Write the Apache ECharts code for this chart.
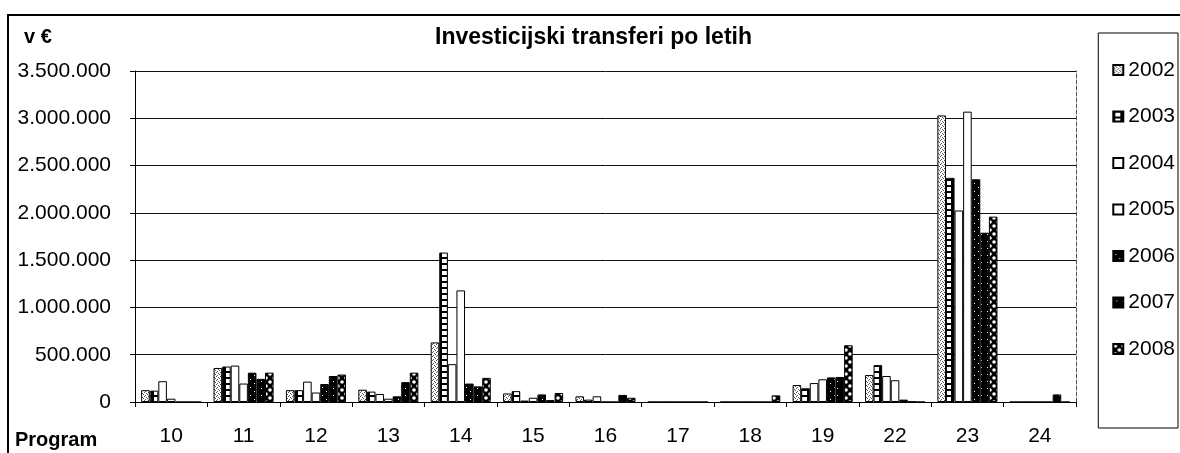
<!DOCTYPE html>
<html>
<head>
<meta charset="utf-8">
<script src="https://cdn.jsdelivr.net/npm/echarts@6/dist/echarts.min.js"></script>
<style>
  html, body { margin: 0; padding: 0; background: #fff; }
  #chart { width: 1180px; height: 453px; }
</style>
</head>
<body>
<div id="chart"></div>
<script>
// kategorije (programi) in leta
var programs = ['10', '11', '12', '13', '14', '15', '16', '17', '18', '19', '22', '23', '24'];
var years = ['2002', '2003', '2004', '2005', '2006', '2007', '2008'];

// vrednosti v € (odčitane s slike)
var v2002 = [125000, 360000, 125000, 130000, 630000, 90000, 60000, 0, 0, 180000, 285000, 3030000, 0];
var v2003 = [120000, 375000, 125000, 110000, 1580000, 115000, 25000, 0, 0, 145000, 390000, 2370000, 0];
var v2004 = [220000, 385000, 215000, 85000, 400000, 15000, 60000, 0, 0, 200000, 275000, 2025000, 0];
var v2005 = [35000, 195000, 100000, 35000, 1180000, 45000, 0, 0, 0, 240000, 230000, 3070000, 0];
var v2006 = [0, 310000, 190000, 60000, 195000, 80000, 0, 0, 0, 260000, 25000, 2355000, 0];
var v2007 = [0, 245000, 275000, 210000, 165000, 20000, 75000, 0, 0, 265000, 5000, 1790000, 80000];
var v2008 = [0, 310000, 290000, 310000, 255000, 95000, 45000, 0, 70000, 600000, 0, 1960000, 0];

var yTicks = ['0', '500.000', '1.000.000', '1.500.000', '2.000.000', '2.500.000', '3.000.000', '3.500.000'];

// vzorci (crno-bel tisk)
function pattern(w, h, draw) {
  var c = document.createElement('canvas');
  c.width = w; c.height = h;
  var ctx = c.getContext('2d');
  draw(ctx);
  return { image: c, repeat: 'repeat' };
}
var p2002 = pattern(4, 4, function (ctx) {
  ctx.fillStyle = '#fff'; ctx.fillRect(0, 0, 4, 4);
  ctx.fillStyle = '#555';
  ctx.fillRect(0, 0, 1, 1); ctx.fillRect(2, 1, 1, 1);
  ctx.fillRect(1, 3, 1, 1); ctx.fillRect(3, 2, 1, 1);
});
var p2003 = pattern(8, 6, function (ctx) {
  ctx.fillStyle = '#000'; ctx.fillRect(0, 0, 8, 6);
  ctx.fillStyle = '#fff'; ctx.fillRect(2, 1, 5, 4);
});
var pWhite = '#fff';
var p2006 = pattern(8, 8, function (ctx) {
  ctx.fillStyle = '#000'; ctx.fillRect(0, 0, 8, 8);
  ctx.fillStyle = '#fff'; ctx.fillRect(2, 3, 1, 1); ctx.fillRect(6, 7, 1, 1);
});
var p2007 = pattern(6, 7, function (ctx) {
  ctx.fillStyle = '#000'; ctx.fillRect(0, 0, 6, 7);
  ctx.fillStyle = '#fff'; ctx.fillRect(3, 3, 1, 1);
});
var p2008 = pattern(8, 8, function (ctx) {
  ctx.fillStyle = '#000'; ctx.fillRect(0, 0, 8, 8);
  ctx.fillStyle = '#fff';
  ctx.beginPath(); ctx.arc(2, 2, 1.8, 0, Math.PI * 2); ctx.fill();
  ctx.beginPath(); ctx.arc(6, 6, 1.8, 0, Math.PI * 2); ctx.fill();
});

var values = [v2002, v2003, v2004, v2005, v2006, v2007, v2008];
var fills = [p2002, p2003, pWhite, pWhite, p2006, p2007, p2008];
var font = 'Liberation Sans, Arial, sans-serif';

var series = [];
for (var i = 0; i < years.length; i++) {
  series.push({
    name: years[i],
    type: 'bar',
    data: values[i],
    barGap: 0,
    barCategoryGap: '17%',
    itemStyle: { color: fills[i], borderColor: '#000', borderWidth: 1 },
    emphasis: { disabled: true }
  });
}

var myChart = echarts.init(document.getElementById('chart'));
var option = {
  backgroundColor: '#fff',
  animation: false,
  title: [{
    text: 'Investicijski transferi po letih',
    left: 430, top: 21,
    textStyle: { fontFamily: font, fontSize: 23, fontWeight: 'bold', color: '#000' }
  }, {
    text: 'v €',
    left: 19, top: 22,
    textStyle: { fontFamily: font, fontSize: 20, fontWeight: 'bold', color: '#000' }
  }, {
    text: 'Program',
    left: 10, top: 425,
    textStyle: { fontFamily: font, fontSize: 20, fontWeight: 'bold', color: '#000' }
  }],
  legend: {
    orient: 'vertical',
    right: 2, top: 33,
    padding: [26, 3, 68, 14],
    borderColor: '#000', borderWidth: 1,
    itemWidth: 10, itemHeight: 10, itemGap: 24.5,
    icon: 'rect',
    data: years,
    textStyle: { fontFamily: font, fontSize: 21, color: '#000', lineHeight: 22 }
  },
  grid: { left: 135, right: 104, top: 71, bottom: 51 },
  xAxis: {
    type: 'category',
    data: programs,
    axisLine: { lineStyle: { color: '#000', width: 1 } },
    axisTick: { show: true, length: 5, lineStyle: { color: '#000' } },
    axisLabel: { fontFamily: font, fontSize: 21, color: '#000', margin: 24 }
  },
  yAxis: [{
    type: 'value',
    min: 0, max: 3500000, interval: 500000,
    axisLine: { show: true, lineStyle: { color: '#000', width: 1 } },
    axisTick: { show: true, length: 5, lineStyle: { color: '#000' } },
    splitLine: { lineStyle: { color: '#111', width: 1 } },
    axisLabel: {
      fontFamily: font, fontSize: 21, color: '#000', margin: 24,
      formatter: function (v) { return yTicks[Math.round(v / 500000)]; }
    }
  }, {
    type: 'value',
    position: 'right',
    min: 0, max: 3500000, interval: 500000,
    axisLine: { show: true, lineStyle: { color: '#555', width: 1, type: 'dashed' } },
    axisTick: { show: false },
    axisLabel: { show: false },
    splitLine: { show: false }
  }],
  graphic: [{
    type: 'rect',
    shape: { x: 8, y: 15, width: 1200, height: 460 },
    style: { fill: 'none', stroke: '#000', lineWidth: 2 },
    silent: true
  }],
  series: series
};
myChart.setOption(option);
</script>
</body>
</html>
